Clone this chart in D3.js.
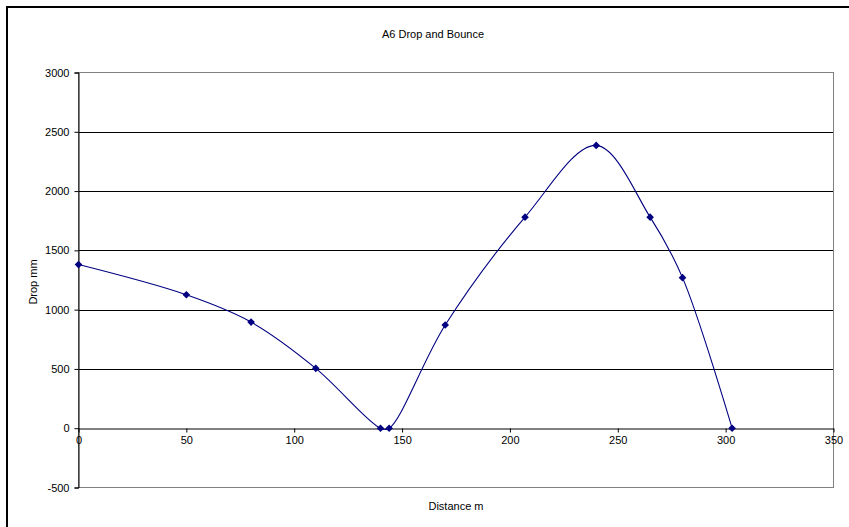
<!DOCTYPE html>
<html><head><meta charset="utf-8">
<script src="https://cdn.jsdelivr.net/npm/d3@7"></script>
<style>body{margin:0;background:#fff}svg{display:block}text{font-family:"Liberation Sans",Arial,sans-serif;fill:#000}</style>
</head><body><svg id="c" width="849" height="527"></svg>
<script>
const distance = [0, 50, 80, 110, 140, 144, 170, 207, 240, 265, 280, 303];
const drop = [1380, 1125, 895, 505, 0, 0, 870, 1780, 2385, 1780, 1270, 0];
const xTicks = [0, 50, 100, 150, 200, 250, 300, 350];
const yTicks = [-500, 0, 500, 1000, 1500, 2000, 2500, 3000];
const title = "A6 Drop and Bounce";
const xTitle = "Distance m";
const yTitle = "Drop mm";

const svg = d3.select("#c");
const L = 78.5, R = 833.5, T = 72.5, B = 487.5;
const x = d3.scaleLinear().domain([0, 350]).range([L, R]);
const y = d3.scaleLinear().domain([-500, 3000]).range([B, T]);

// outer frame
svg.append("rect").attr("x", 7).attr("y", 7).attr("width", 900).attr("height", 600)
  .attr("fill", "none").attr("stroke", "#000").attr("stroke-width", 2);

// gridlines
svg.append("g").selectAll("line").data(yTicks.filter(d => d > 0 && d < 3000)).join("line")
  .attr("x1", L).attr("x2", R).attr("y1", d => Math.round(y(d)) + 0.5).attr("y2", d => Math.round(y(d)) + 0.5)
  .attr("stroke", "#000").attr("stroke-width", 1);

// plot area border
svg.append("rect").attr("x", L).attr("y", T).attr("width", R - L).attr("height", B - T)
  .attr("fill", "none").attr("stroke", "#808080").attr("stroke-width", 1);

// y axis
const yAxis = svg.append("g").attr("transform", `translate(${L},0)`)
  .call(d3.axisLeft(y).tickValues(yTicks).tickSize(4).tickPadding(5).tickFormat(d => String(d)));
yAxis.select(".domain").attr("stroke", "#000");
yAxis.selectAll("line").attr("stroke", "#000");
yAxis.selectAll("text").style("font-size", "11px").attr("fill", "#000");

// x axis at y=0
const xAxis = svg.append("g").attr("transform", `translate(0,${Math.round(y(0)) + 0.5})`)
  .call(d3.axisBottom(x).tickValues(xTicks).tickSize(4).tickSizeOuter(0).tickPadding(4).tickFormat(d => String(d)));
xAxis.select(".domain").attr("stroke", "#000");
xAxis.selectAll("line").attr("stroke", "#000");
xAxis.selectAll("text").style("font-size", "11px").attr("fill", "#000");

// series
const pts = distance.map((d, i) => [d, drop[i]]);
svg.append("path").datum(pts)
  .attr("d", d3.line().x(d => x(d[0])).y(d => y(d[1])).curve(d3.curveCatmullRom.alpha(0.5)))
  .attr("fill", "none").attr("stroke", "#000080").attr("stroke-width", 1.1);
svg.append("g").selectAll("path").data(pts).join("path")
  .attr("transform", d => `translate(${x(d[0])},${y(d[1])})`)
  .attr("d", "M0,-3.8L3.8,0L0,3.8L-3.8,0Z").attr("fill", "#000080");

// titles
svg.append("text").attr("x", 433).attr("y", 38).attr("text-anchor", "middle").style("font-size", "11px").text(title);
svg.append("text").attr("x", 456).attr("y", 510).attr("text-anchor", "middle").style("font-size", "11px").text(xTitle);
svg.append("text").attr("transform", "translate(37,282) rotate(-90)").attr("text-anchor", "middle").style("font-size", "11px").text(yTitle);
</script></body></html>
